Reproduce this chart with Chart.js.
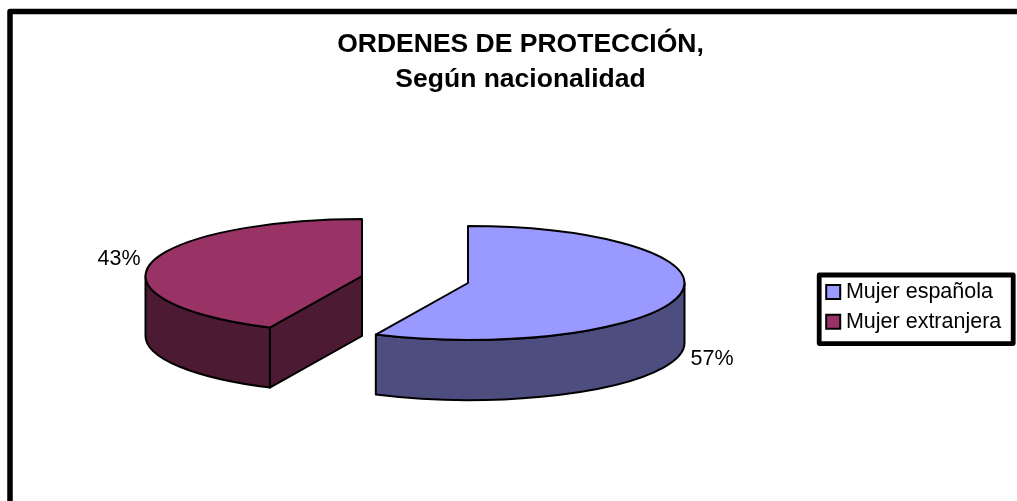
<!DOCTYPE html>
<html lang="es">
<head>
<meta charset="utf-8">
<title>Ordenes de protección</title>
<script src="https://cdn.jsdelivr.net/npm/chart.js@4/dist/chart.umd.js"></script>
<style>
html,body{margin:0;padding:0;background:#fff;overflow:hidden}
canvas{display:block}
</style>
</head>
<body>
<canvas id="c" width="1017" height="501"></canvas>
<script>
const titleLines = ["ORDENES DE PROTECCIÓN,", "Según nacionalidad"];
const categories = ["Mujer española", "Mujer extranjera"];
const shares = [57, 43];
const topColors = ["#9999FF", "#993366"];
const wallColors = ["#4D4D80", "#4D1A33"];

const FONT = '"Liberation Sans", Arial, sans-serif';
const PIE = {
  centers: [[468, 283], [362, 276]],
  ry: 57,
  depth: 60,
  labelOffsets: [[244, 76], [-243, -17]],
  labelSize: 21.5
};

const pie3d = {
  id: 'pie3d',
  beforeDatasetDraw(chart, args) {
    const ctx = chart.ctx;
    const arcs = args.meta.data;
    arcs.forEach((arc, i) => {
      const [cx, cy] = PIE.centers[i];
      const rx = arc.outerRadius, ry = PIE.ry, d = PIE.depth;
      const a0 = arc.startAngle, a1 = arc.endAngle;
      const px = a => cx + rx * Math.cos(a), py = a => cy + ry * Math.sin(a);

      ctx.save();
      ctx.lineWidth = 2;
      ctx.strokeStyle = '#000';
      ctx.lineJoin = 'round';
      ctx.fillStyle = wallColors[i];

      // radial faces turned towards the viewer
      [[a0, Math.cos(a0) < -1e-3], [a1, Math.cos(a1) > 1e-3]].forEach(([a, show]) => {
        if (!show) return;
        ctx.beginPath();
        ctx.moveTo(cx, cy);
        ctx.lineTo(px(a), py(a));
        ctx.lineTo(px(a), py(a) + d);
        ctx.lineTo(cx, cy + d);
        ctx.closePath();
        ctx.fill();
        ctx.stroke();
      });

      // outer wall: the part of the arc on the front half
      const w0 = Math.max(a0, 0), w1 = Math.min(a1, Math.PI);
      if (w1 > w0) {
        ctx.beginPath();
        ctx.ellipse(cx, cy, rx, ry, 0, w0, w1);
        ctx.lineTo(px(w1), py(w1) + d);
        ctx.ellipse(cx, cy + d, rx, ry, 0, w1, w0, true);
        ctx.closePath();
        ctx.fill();
        ctx.stroke();
      }

      // top face: the library's own arc element, tilted
      ctx.save();
      ctx.translate(cx, cy);
      ctx.scale(1, ry / rx);
      ctx.translate(-arc.x, -arc.y);
      arc.draw(ctx);
      ctx.restore();

      ctx.beginPath();
      ctx.moveTo(cx, cy);
      ctx.ellipse(cx, cy, rx, ry, 0, a0, a1);
      ctx.closePath();
      ctx.stroke();

      // percentage label
      const total = chart.data.datasets[0].data.reduce((s, v) => s + v, 0);
      const pct = Math.round(chart.data.datasets[0].data[i] / total * 100) + '%';
      ctx.fillStyle = '#000';
      ctx.font = PIE.labelSize + 'px ' + FONT;
      ctx.textAlign = 'center';
      ctx.textBaseline = 'middle';
      ctx.fillText(pct, cx + PIE.labelOffsets[i][0], cy + PIE.labelOffsets[i][1]);
      ctx.restore();
    });
    return false;
  },
  afterLayout(chart) {
    chart.legend.left = 823;
    chart.legend.top = 273;
  },
  afterDraw(chart) {
    const ctx = chart.ctx;
    ctx.save();
    ctx.strokeStyle = '#000';
    ctx.lineJoin = 'round';
    // outer chart frame, running off the right and bottom of the page
    ctx.lineWidth = 5.5;
    ctx.beginPath();
    ctx.moveTo(10, 520);
    ctx.lineTo(10, 11.5);
    ctx.lineTo(1040, 11.5);
    ctx.stroke();
    // legend frame
    ctx.lineWidth = 4.8;
    ctx.strokeRect(819.2, 275, 194, 68.6);
    ctx.restore();
  }
};

new Chart(document.getElementById('c'), {
  type: 'pie',
  data: {
    labels: categories,
    datasets: [{
      data: shares,
      backgroundColor: topColors,
      borderWidth: 0,
      radius: 216.5
    }]
  },
  options: {
    responsive: false,
    animation: false,
    events: [],
    layout: { padding: { left: 24, right: 0, top: 0, bottom: 0 } },
    plugins: {
      tooltip: { enabled: false },
      title: {
        display: true,
        text: titleLines,
        color: '#000',
        font: { family: FONT, size: 26.5, weight: 'bold', lineHeight: 1.32 },
        padding: { top: 27, bottom: 10 }
      },
      legend: {
        position: 'right',
        align: 'start',
        labels: {
          color: '#000',
          font: { family: FONT, size: 21.5 },
          usePointStyle: true,
          pointStyle: 'rect',
          boxWidth: 4,
          boxHeight: 14,
          padding: 8.2,
          generateLabels(chart) {
            return Chart.overrides.doughnut.plugins.legend.labels.generateLabels(chart)
              .map(it => Object.assign(it, { lineWidth: 2, strokeStyle: '#000', pointStyle: 'rect' }));
          }
        }
      }
    }
  },
  plugins: [pie3d]
});
</script>
</body>
</html>
